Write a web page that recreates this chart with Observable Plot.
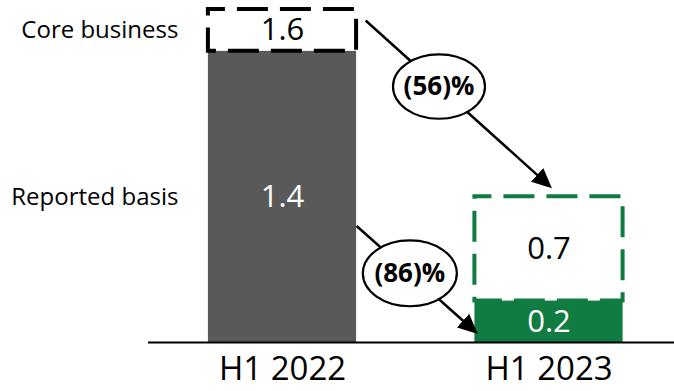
<!DOCTYPE html>
<html>
<head>
<meta charset="utf-8">
<script src="https://cdn.jsdelivr.net/npm/d3@7"></script>
<script src="https://cdn.jsdelivr.net/npm/@observablehq/plot@0.6"></script>
<style>
  html, body { margin: 0; padding: 0; background: #fff; }
  #chart svg { display: block; }
</style>
</head>
<body>
<div id="chart"></div>
<script>
// Half-year results: reported basis vs. core business
const periods = ["H1 2022", "H1 2023"];
const reported = [1.4, 0.2];
const core = [1.6, 0.7];
const seriesLabels = ["Core business", "Reported basis"];
const changeLabels = ["(56)%", "(86)%"];
const barColors = ["#595959", "#107C41"];
const boxColors = ["#000000", "#107C41"];

const rows = periods.map((period, i) => ({
  i, period, reported: reported[i], core: core[i],
  fill: barColors[i], stroke: boxColors[i]
}));

const half = 0.278; // half bar width, in category units

// Row labels sit left of the first bar, level with its segments
const rowLabels = [
  {text: seriesLabels[0], y: (reported[0] + core[0]) / 2},
  {text: seriesLabels[1], y: reported[0] / 2}
];

// Change arrows: core business (top) and reported basis (bottom)
const arrows = [
  {label: changeLabels[0], x1: half + 0.034, y1: core[0] - 0.053, x2: 1, y2: core[1] + 0.054, t: 0.4, r: 46},
  {label: changeLabels[1], x1: half, y1: reported[0] * 0.4, x2: 1 - half, y2: reported[1] * 0.27, t: 0.45, r: 47}
];
const at = (d) => ({x: d.x1 + d.t * (d.x2 - d.x1), y: d.y1 + d.t * (d.y2 - d.y1)});

// Filled triangular arrow head
function arrowHead(color) {
  const m = d3.create("svg:marker")
    .attr("viewBox", "0 -5 10 10")
    .attr("refX", 8)
    .attr("refY", 0)
    .attr("markerWidth", 20)
    .attr("markerHeight", 20)
    .attr("markerUnits", "userSpaceOnUse")
    .attr("orient", "auto");
  m.append("path").attr("d", "M0,-4.6L10,0L0,4.6Z").attr("fill", color).attr("stroke", "none");
  return m.node();
}

// Ellipse symbol for the change bubbles
const ellipse = {
  draw(ctx, size) {
    const rx = Math.sqrt(size / Math.PI), ry = rx * 0.7, k = 0.5523;
    ctx.moveTo(rx, 0);
    ctx.bezierCurveTo(rx, ry * k, rx * k, ry, 0, ry);
    ctx.bezierCurveTo(-rx * k, ry, -rx, ry * k, -rx, 0);
    ctx.bezierCurveTo(-rx, -ry * k, -rx * k, -ry, 0, -ry);
    ctx.bezierCurveTo(rx * k, -ry, rx, -ry * k, rx, 0);
    ctx.closePath();
  }
};

const font = "'Open Sans', 'Noto Sans', sans-serif";

const marks = [
  Plot.rectY(rows, {x1: d => d.i - half, x2: d => d.i + half, y1: 0, y2: "reported", fill: "fill"}),
  Plot.rect(rows, {
    x1: d => d.i - half, x2: d => d.i + half, y1: "reported", y2: "core",
    fill: "white", stroke: "stroke", strokeWidth: 4, strokeDasharray: "31,12", strokeDashoffset: 14
  }),
  Plot.ruleY([0], {stroke: "black", strokeWidth: 2}),
  Plot.text(rows, {x: "i", y: d => d.reported / 2, text: d => d.reported.toFixed(1), fill: "white", fontSize: 31}),
  Plot.text(rows, {x: "i", y: d => (d.reported + d.core) / 2, text: d => d.core.toFixed(1), fill: "black", fontSize: 31}),
  Plot.text(rowLabels, {x: -half, y: "y", text: "text", dx: -30, textAnchor: "end", fill: "black", fontSize: 24}),
  Plot.link(arrows, {x1: "x1", y1: "y1", x2: "x2", y2: "y2", stroke: "black", strokeWidth: 2.5, markerEnd: arrowHead}),
  Plot.dot(arrows, {x: d => at(d).x, y: d => at(d).y, r: "r", symbol: ellipse, fill: "white", stroke: "black", strokeWidth: 2.2}),
  Plot.text(arrows, {x: d => at(d).x, y: d => at(d).y, text: "label", fontWeight: "bold", fontSize: 26, fill: "black"})
];

if (Plot.axisX) {
  marks.push(Plot.axisX({ticks: [0, 1], tickFormat: i => periods[i], tickSize: 0, tickPadding: 14, fontSize: 33, fill: "black"}));
} else {
  marks.push(Plot.text(periods, {x: (d, i) => i, y: 0, dy: 14, lineAnchor: "top", fontSize: 33}));
}

const chart = Plot.plot({
  width: 674,
  height: 391,
  marginLeft: 148,
  marginRight: 0,
  marginTop: 0,
  marginBottom: 49,
  style: {fontFamily: font, background: "white", color: "black", overflow: "visible"},
  x: {type: "linear", domain: [0, 1], range: [282, 548.5], axis: null},
  y: {domain: [0, 1.6], range: [342, 9], axis: null},
  color: {type: "identity"},
  r: {type: "identity"},
  marks
});

document.getElementById("chart").append(chart);
</script>
</body>
</html>
